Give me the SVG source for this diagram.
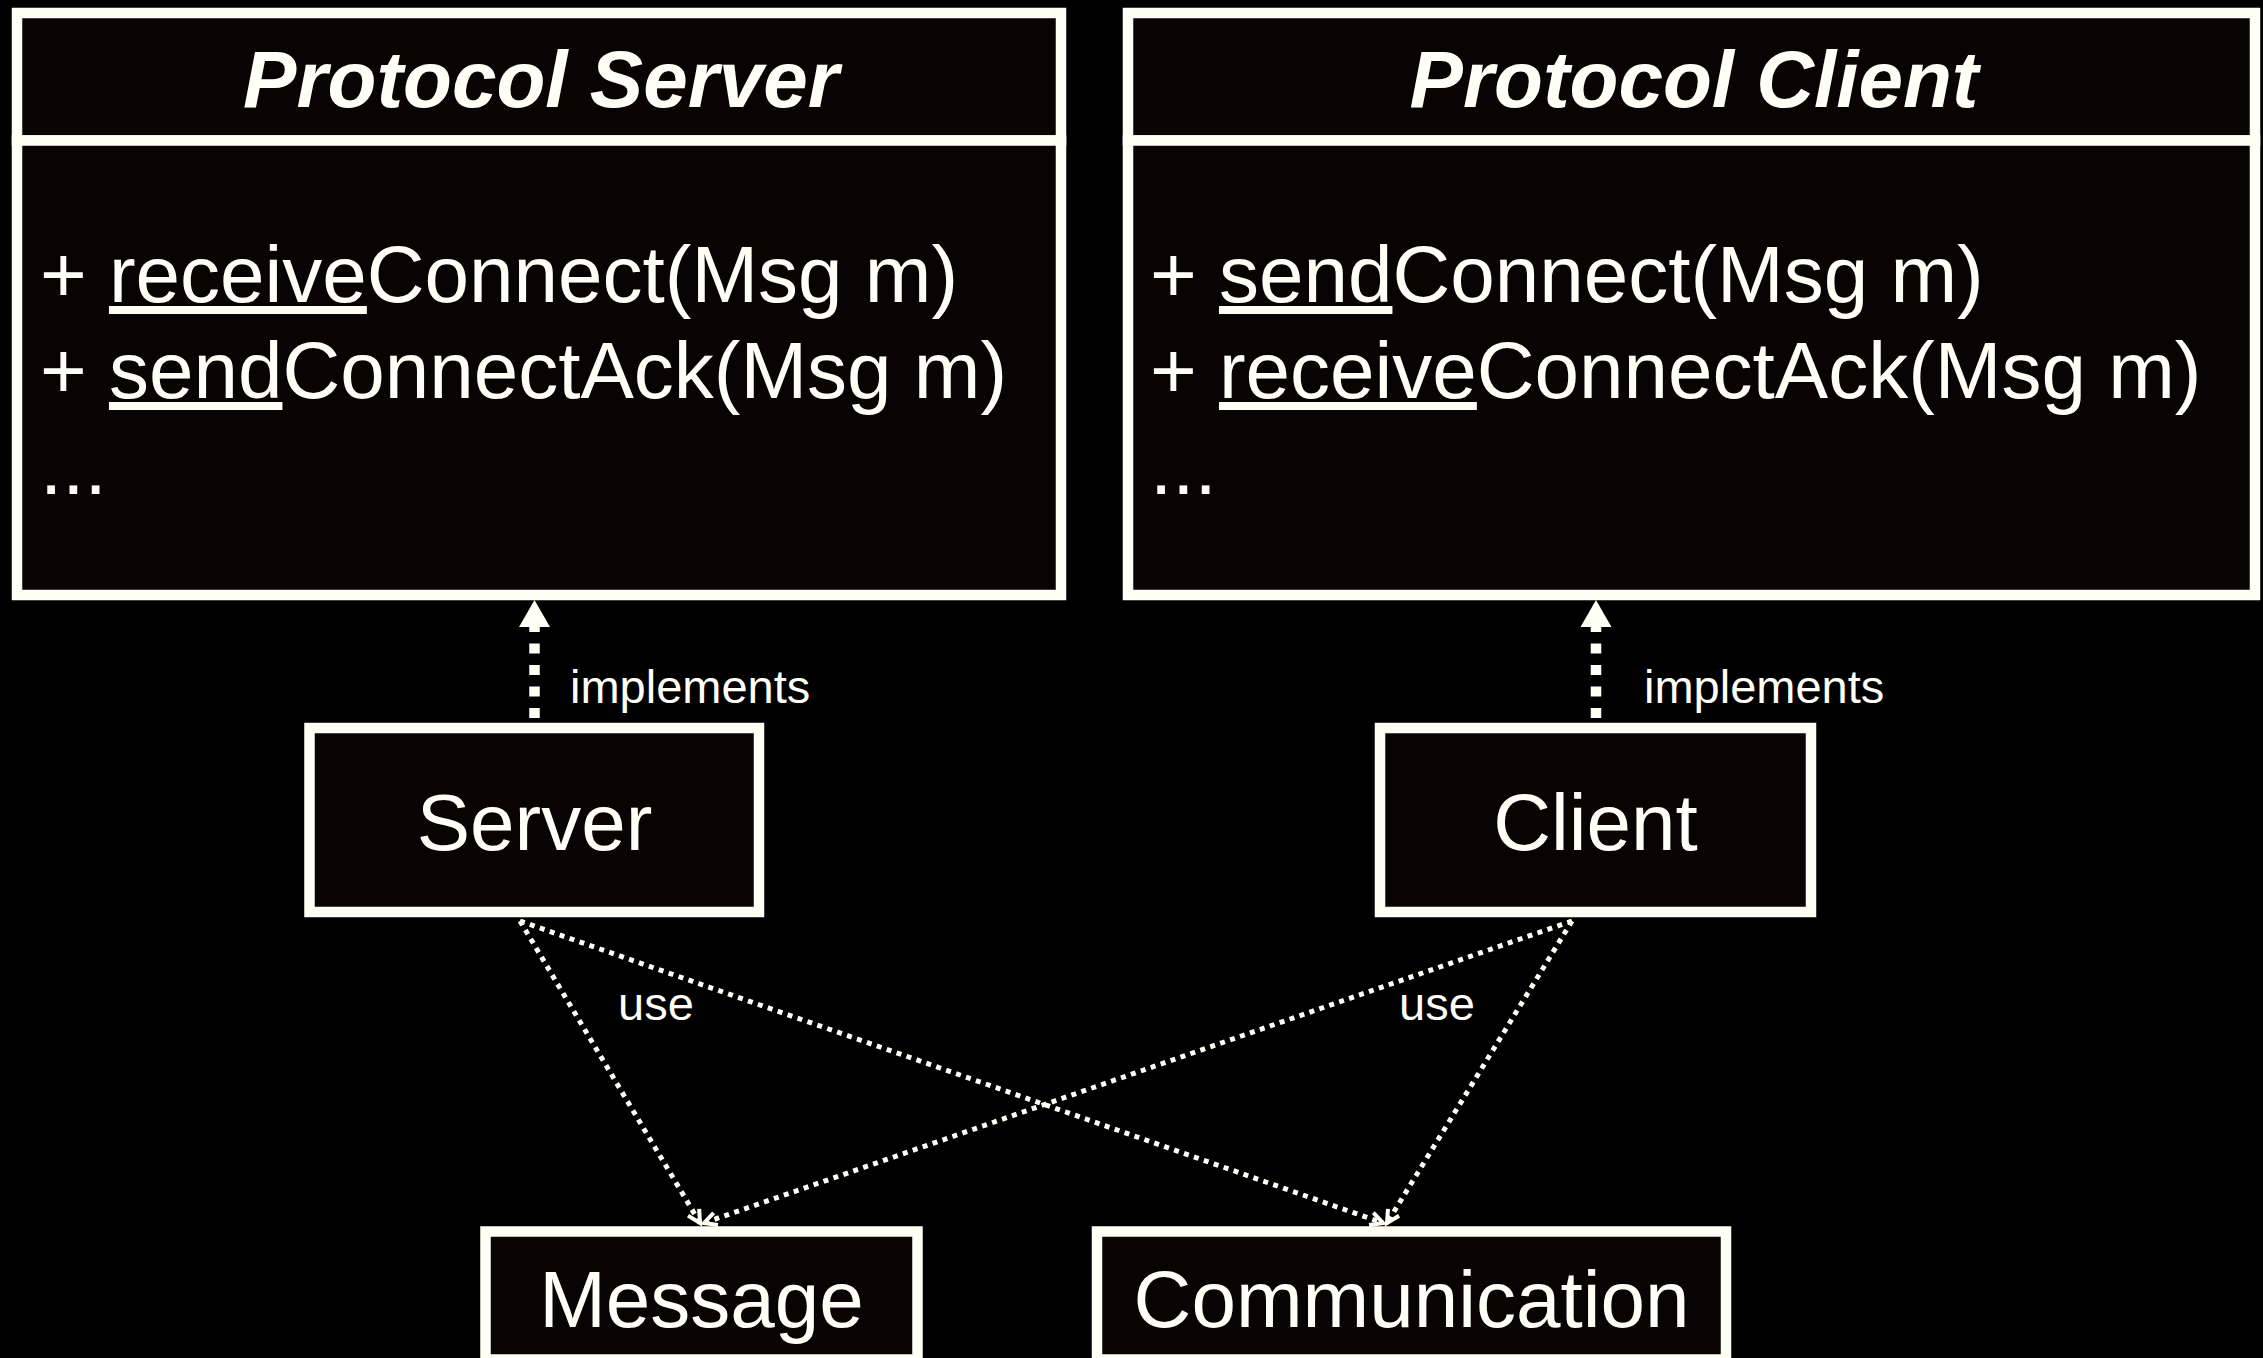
<svg xmlns="http://www.w3.org/2000/svg" width="2263" height="1358" viewBox="0 0 2263 1358">
<style>
.box{fill:#090403;stroke:#fffff6;stroke-width:10.5}
text{font-family:"Liberation Sans",Arial,sans-serif;fill:#fffff8}
.title{font-size:80px;font-weight:bold;font-style:italic;text-anchor:middle}
.member{font-size:80px}
.u{text-decoration:underline}
.name{font-size:80px;text-anchor:middle}
.label{font-size:47px}
.impl{stroke:#fffff6;stroke-width:10.5;stroke-dasharray:10 11.5;fill:none}
.use{stroke:#fffff6;stroke-width:5;stroke-dasharray:5 5.5;fill:none}
</style>
<defs>
<marker id="tri" markerUnits="userSpaceOnUse" markerWidth="30" markerHeight="34" viewBox="0 -17 30 34" refX="0" refY="0" orient="auto" overflow="visible">
<path d="M0,-15.5 L27,0 L0,15.5 z" fill="#fffff6"/>
</marker>
<marker id="open" markerUnits="userSpaceOnUse" markerWidth="20" markerHeight="20" viewBox="-16 -10 20 20" refX="0" refY="0" orient="auto" overflow="visible">
<path d="M-12.5,-6.5 L0,0 L-12.5,6.5" fill="none" stroke="#fffff6" stroke-width="4"/>
</marker>
</defs>
<rect width="2263" height="1358" fill="#000"/>

<g id="protocol-server">
<rect class="box" x="17" y="13" width="1044" height="127.5"/>
<rect class="box" x="17" y="140.5" width="1044" height="454.5"/>
<text class="title" x="541" y="107">Protocol Server</text>
<text class="member" x="40" y="302">+ <tspan class="u">receive</tspan>Connect(Msg m)</text>
<text class="member" x="40" y="398">+ <tspan class="u">send</tspan>ConnectAck(Msg m)</text>
<text class="member" x="40" y="494">...</text>
</g>

<g id="protocol-client">
<rect class="box" x="1128" y="13" width="1127" height="127.5"/>
<rect class="box" x="1128" y="140.5" width="1127" height="454.5"/>
<text class="title" x="1694" y="107">Protocol Client</text>
<text class="member" x="1150" y="302">+ <tspan class="u">send</tspan>Connect(Msg m)</text>
<text class="member" x="1150" y="398">+ <tspan class="u">receive</tspan>ConnectAck(Msg m)</text>
<text class="member" x="1150" y="494">...</text>
</g>

<g id="server">
<rect class="box" x="309.5" y="728" width="449.5" height="184"/>
<text class="name" x="534.5" y="850">Server</text>
</g>

<g id="client">
<rect class="box" x="1380" y="728" width="431" height="184"/>
<text class="name" x="1595.5" y="850">Client</text>
</g>

<g id="message">
<rect class="box" x="485.5" y="1231.5" width="432" height="128"/>
<text class="name" x="701.5" y="1327">Message</text>
</g>

<g id="communication">
<rect class="box" x="1097" y="1231.5" width="629" height="128"/>
<text class="name" x="1411.5" y="1327">Communication</text>
</g>

<g id="connectors">
<line class="impl" x1="534.5" y1="718" x2="534.5" y2="627" marker-end="url(#tri)"/>
<line class="impl" x1="1596" y1="718" x2="1596" y2="627" marker-end="url(#tri)"/>
<text class="label" x="570" y="703">implements</text>
<text class="label" x="1644" y="703">implements</text>
<line class="use" x1="520" y1="921" x2="700" y2="1223" marker-end="url(#open)"/>
<line class="use" x1="520" y1="921" x2="1383" y2="1223" marker-end="url(#open)"/>
<line class="use" x1="1572" y1="921" x2="704" y2="1223" marker-end="url(#open)"/>
<line class="use" x1="1572" y1="921" x2="1387" y2="1223" marker-end="url(#open)"/>
<text class="label" x="618" y="1020">use</text>
<text class="label" x="1399" y="1020">use</text>
</g>
</svg>
